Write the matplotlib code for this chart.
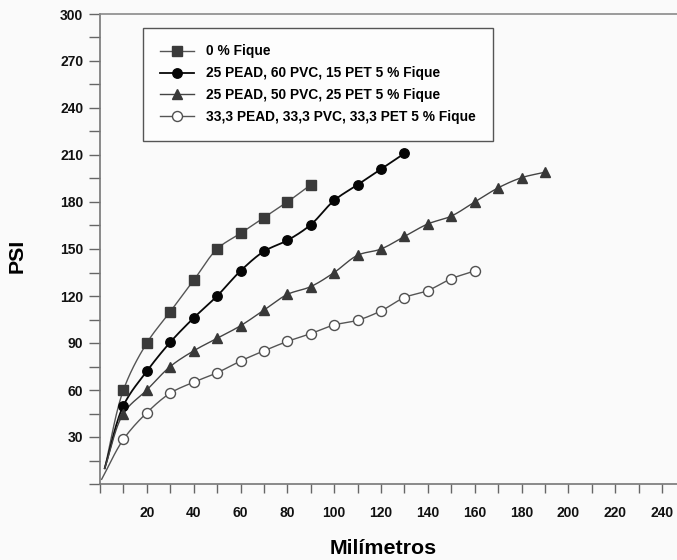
import numpy as np
import matplotlib
matplotlib.use('Agg')
import matplotlib.pyplot as plt
from matplotlib.ticker import MultipleLocator, FuncFormatter
from matplotlib.lines import Line2D

plt.rcParams['font.family'] = ['Liberation Sans', 'DejaVu Sans']

# ---- data ----
labels = ['0 % Fique',
          '25 PEAD, 60 PVC, 15 PET 5 % Fique',
          '25 PEAD, 50 PVC, 25 PET 5 % Fique',
          '33,3 PEAD, 33,3 PVC, 33,3 PET 5 % Fique']

x_sq = [10, 20, 30, 40, 50, 60, 70, 80, 90]
y_sq = [60, 90, 110, 130, 150, 160, 170, 180, 191]

x_ci = [10, 20, 30, 40, 50, 60, 70, 80, 90, 100, 110, 120, 130]
y_ci = [50, 72, 90.5, 106, 120, 136, 148.5, 155.5, 165.5, 181, 191, 201, 211]

x_tr = [10, 20, 30, 40, 50, 60, 70, 80, 90, 100, 110, 120, 130, 140, 150,
        160, 170, 180, 190]
y_tr = [45, 60, 75, 85, 93, 101, 111, 121, 126, 135, 146, 150, 158, 166,
        171, 180, 189, 195.5, 199]

x_oc = [10, 20, 30, 40, 50, 60, 70, 80, 90, 100, 110, 120, 130, 140, 150, 160]
y_oc = [28.5, 45.5, 58, 65, 71, 78.5, 85, 91, 96, 101.5, 104.5, 110.5, 119,
        123.5, 131, 136]

# where each fitted curve begins near the origin
curve_start_x = [2, 2, 2, 0.7]
curve_start_y = [10, 10, 10, 3]

xs_all = [x_sq, x_ci, x_tr, x_oc]
ys_all = [y_sq, y_ci, y_tr, y_oc]

x_ticklabels = [20, 40, 60, 80, 100, 120, 140, 160, 180, 200, 220, 240]
y_ticklabels = [30, 60, 90, 120, 150, 180, 210, 240, 270, 300]


def catmull(xs, ys, sx=2.342, sy=1.567, n=16):
    P = np.column_stack([np.asarray(xs, float) * sx, np.asarray(ys, float) * sy])
    P = np.vstack([2 * P[0] - P[1], P, 2 * P[-1] - P[-2]])
    out = []
    for i in range(1, len(P) - 2):
        p0, p1, p2, p3 = P[i - 1], P[i], P[i + 1], P[i + 2]
        t0 = 0.0
        t1 = t0 + np.linalg.norm(p1 - p0) ** 0.5
        t2 = t1 + np.linalg.norm(p2 - p1) ** 0.5
        t3 = t2 + np.linalg.norm(p3 - p2) ** 0.5
        t = np.linspace(t1, t2, n)[:, None]
        A1 = (t1 - t) / (t1 - t0) * p0 + (t - t0) / (t1 - t0) * p1
        A2 = (t2 - t) / (t2 - t1) * p1 + (t - t1) / (t2 - t1) * p2
        A3 = (t3 - t) / (t3 - t2) * p2 + (t - t2) / (t3 - t2) * p3
        B1 = (t2 - t) / (t2 - t0) * A1 + (t - t0) / (t2 - t0) * A2
        B2 = (t3 - t) / (t3 - t1) * A2 + (t - t1) / (t3 - t1) * A3
        C = (t2 - t) / (t2 - t1) * B1 + (t - t1) / (t2 - t1) * B2
        out.append(C if i == 1 else C[1:])
    C = np.vstack(out)
    return C[:, 0] / sx, C[:, 1] / sy


bg = '#fafafa'
fig = plt.figure(figsize=(6.77, 5.6), dpi=100, facecolor=bg)
ax = fig.add_axes([100 / 677, 76 / 560, 577 / 677, 470 / 560])
ax.set_facecolor(bg)

styles = [
    dict(marker='s', ms=7.4, mfc='#3a3a3a', mec='#3a3a3a', color='#555555', lw=1.0),
    dict(marker='o', ms=6.8, mfc='#050505', mec='#050505', color='#080808', lw=1.3),
    dict(marker='^', ms=7.8, mfc='#383838', mec='#383838', color='#444444', lw=1.0),
    dict(marker='o', ms=7.2, mfc='white', mec='#505050', color='#555555', lw=1.0),
]

handles = []
for xs, ys, sx0, sy0, st, lab in zip(xs_all, ys_all, curve_start_x,
                                     curve_start_y, styles, labels):
    cx, cy = catmull([sx0] + list(xs), [sy0] + list(ys))
    ax.plot(cx, cy, color=st['color'], lw=st['lw'], zorder=2)
    ax.plot(xs, ys, linestyle='none', marker=st['marker'], ms=st['ms'],
            mfc=st['mfc'], mec=st['mec'], mew=1.0, zorder=3)
    handles.append(Line2D([], [], color=st['color'], lw=st['lw'],
                          marker=st['marker'], ms=st['ms'], mfc=st['mfc'],
                          mec=st['mec'], mew=1.0))

ax.set_xlim(0, 246.4)
ax.set_ylim(0, 300)

ax.xaxis.set_major_locator(MultipleLocator(20))
ax.xaxis.set_minor_locator(MultipleLocator(10))
ax.yaxis.set_major_locator(MultipleLocator(30))
ax.yaxis.set_minor_locator(MultipleLocator(15))

ax.xaxis.set_major_formatter(FuncFormatter(
    lambda v, p: str(int(round(v))) if int(round(v)) in x_ticklabels else ''))
ax.yaxis.set_major_formatter(FuncFormatter(
    lambda v, p: str(int(round(v))) if int(round(v)) in y_ticklabels else ''))

ax.tick_params(axis='x', which='both', direction='out', length=6.5, width=1,
               color='#666666', pad=9, labelsize=10, labelcolor='#111111')
ax.tick_params(axis='y', which='both', direction='out', length=8, width=1,
               color='#666666', pad=4, labelsize=10, labelcolor='#111111')
for lab in ax.get_xticklabels() + ax.get_yticklabels():
    lab.set_fontweight('bold')

for s in ['left', 'bottom']:
    ax.spines[s].set_color('#777777')
    ax.spines[s].set_linewidth(1.2)
ax.spines['top'].set_color('#8a8a8a')
ax.spines['top'].set_linewidth(1.2)
ax.spines['right'].set_visible(False)

ax.set_xlabel('Milímetros', fontsize=15.4, fontweight='bold', va='center')
ax.xaxis.set_label_coords((383 - 100) / 577, -64 / 470)
ax.set_ylabel('PSI', fontsize=15.4, fontweight='bold', va='center')
ax.yaxis.set_label_coords((17 - 100) / 577, (484 - 256) / 470)

leg = ax.legend(handles, labels, loc='upper left',
                bbox_to_anchor=((143 - 100) / 577, (484 - 28) / 470),
                borderaxespad=0, frameon=True, fancybox=False,
                edgecolor='#555555', facecolor='#fdfdfd', framealpha=1,
                prop={'weight': 'bold', 'size': 9.9}, handlelength=2.5,
                handletextpad=0.9, borderpad=1.2, labelspacing=0.57)
leg.get_frame().set_linewidth(1.0)

fig.savefig('out.png', dpi=100, facecolor=bg)
